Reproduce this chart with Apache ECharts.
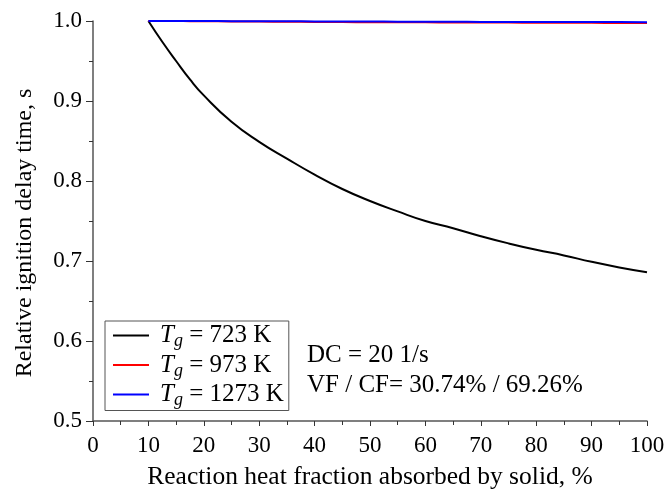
<!DOCTYPE html>
<html>
<head>
<meta charset="utf-8">
<script src="https://cdn.jsdelivr.net/npm/echarts@6/dist/echarts.min.js"></script>
<style>html,body{margin:0;padding:0;background:#fff}#c{width:667px;height:490px}</style>
</head>
<body>
<div id="c"></div>
<script>
var xValues = [10, 12.5, 15, 17.5, 20, 25, 30, 35, 40, 45, 50, 55, 60, 65, 70, 75, 80, 85, 90, 95, 100];
var tg723 = [1.000, 0.974, 0.950, 0.927, 0.907, 0.874, 0.849, 0.828, 0.808, 0.790, 0.775, 0.762, 0.750, 0.741, 0.731, 0.722, 0.714, 0.707, 0.699, 0.692, 0.686];
var tg973 = [1.000, 1.000, 0.9999, 0.9998, 0.9997, 0.9995, 0.9993, 0.9991, 0.9989, 0.9987, 0.9985, 0.9984, 0.9983, 0.9982, 0.9981, 0.998, 0.9979, 0.9978, 0.9977, 0.9976, 0.9975];
var tg1273 = [1.000, 1.000, 1.000, 0.9999, 0.9999, 0.9998, 0.9997, 0.9996, 0.9995, 0.9994, 0.9993, 0.9992, 0.9991, 0.999, 0.9989, 0.9989, 0.9988, 0.9987, 0.9986, 0.9986, 0.9985];
var seriesNames = ['723', '973', '1273'];
var seriesColors = ['#000000', '#ff0000', '#0000ff'];
var xTitle = 'Reaction heat fraction absorbed by solid, %';
var yTitle = 'Relative ignition delay time, s';
var note1 = 'DC = 20 1/s';
var note2 = 'VF / CF= 30.74% / 69.26%';

var FONT = '"Liberation Serif", "Times New Roman", serif';
function pairs(ys) { return xValues.map(function (x, i) { return [x, ys[i]]; }); }
var allData = [tg723, tg973, tg1273];

var chart = echarts.init(document.getElementById('c'));
chart.setOption({
  animation: false,
  backgroundColor: '#fff',
  grid: { left: 93, right: 20, top: 21, bottom: 69, containLabel: false, outerBoundsMode: 'none' },
  xAxis: {
    type: 'value', min: 0, max: 100, interval: 10,
    name: xTitle, nameLocation: 'middle', nameGap: 43,
    nameTextStyle: { fontFamily: FONT, fontSize: 25.5, color: '#000' },
    axisLine: { lineStyle: { color: '#555', width: 1.5 } },
    axisTick: { inside: false, length: 5, lineStyle: { color: '#333' } },
    minorTick: { show: true, splitNumber: 2, length: 4, lineStyle: { color: '#333' } },
    splitLine: { show: false },
    axisLabel: { fontFamily: FONT, fontSize: 23, color: '#000', margin: 13 }
  },
  yAxis: {
    type: 'value', min: 0.5, max: 1.0, interval: 0.1,
    axisLine: { show: true, lineStyle: { color: '#555', width: 1.5 } },
    axisTick: { show: true, inside: false, length: 7, lineStyle: { color: '#333' } },
    minorTick: { show: true, splitNumber: 2, length: 4, lineStyle: { color: '#333' } },
    splitLine: { show: false },
    axisLabel: { fontFamily: FONT, fontSize: 23, color: '#000', margin: 11, formatter: function (v) { return v.toFixed(1); } }
  },
  legend: {
    left: 105, top: 321,
    orient: 'vertical',
    itemGap: 2,
    itemWidth: 36, itemHeight: 2,
    icon: 'rect',
    padding: [2, 5, 1, 8],
    borderColor: '#555', borderWidth: 1,
    backgroundColor: '#fff',
    data: seriesNames.slice(),
    formatter: function (n) { return '{t|T}{g|g}{r| = ' + n + ' K}'; },
    textStyle: {
      fontFamily: FONT, fontSize: 25, color: '#000',
      rich: {
        t: { fontFamily: FONT, fontSize: 25, fontStyle: 'italic', color: '#000', padding: [0, 0, 0, 6], lineHeight: 26 },
        g: { fontFamily: FONT, fontSize: 18, fontStyle: 'italic', color: '#000', padding: [12, 0, 0, 0] },
        r: { fontFamily: FONT, fontSize: 25, color: '#000', lineHeight: 26 }
      }
    }
  },
  graphic: [
    { type: 'text', x: 25, y: 233, rotation: Math.PI / 2, style: { text: yTitle, font: '24px ' + FONT, fill: '#000', align: 'center', verticalAlign: 'middle' } },
    { type: 'text', left: 307, top: 343, style: { text: note1, font: '25px ' + FONT, fill: '#000' } },
    { type: 'text', left: 307, top: 373, style: { text: note2, font: '25px ' + FONT, fill: '#000' } }
  ],
  series: seriesNames.map(function (n, i) {
    return {
      name: n, type: 'line', data: pairs(allData[i]),
      smooth: true, symbol: 'none', z: 2 + i,
      lineStyle: { color: seriesColors[i], width: 2 },
      itemStyle: { color: seriesColors[i] }
    };
  })
});
</script>
</body>
</html>
